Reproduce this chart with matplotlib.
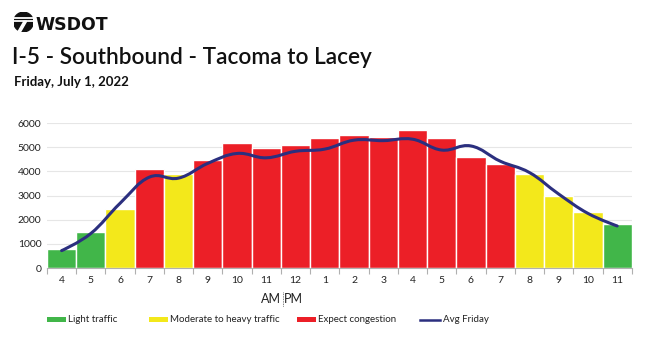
import numpy as np
import matplotlib.pyplot as plt
from matplotlib.path import Path
from matplotlib.patches import PathPatch, Circle, Rectangle, Polygon
from matplotlib.lines import Line2D

# ---------------------------------------------------------------------------
# Hourly volumes, I-5 southbound Tacoma -> Lacey, Friday July 1 2022
# ---------------------------------------------------------------------------
hours = ['4', '5', '6', '7', '8', '9', '10', '11', '12', '1',
         '2', '3', '4', '5', '6', '7', '8', '9', '10', '11']
volume = [780, 1500, 2430, 4080, 3880, 4450, 5170, 4960, 5070, 5390,
          5490, 5430, 5690, 5380, 4600, 4300, 3880, 3000, 2330, 1820]
avg_friday = [720, 1430, 2680, 3760, 3720, 4330, 4740, 4560, 4830, 4920,
              5290, 5270, 5330, 4880, 5050, 4420, 3950, 3060, 2260, 1740]
# traffic level per hour: 0 light, 1 moderate/heavy, 2 congestion
level = [0, 0, 1, 2, 1, 2, 2, 2, 2, 2,
         2, 2, 2, 2, 2, 2, 1, 1, 1, 0]
level_names = ['Light traffic', 'Moderate to heavy traffic', 'Expect congestion']

GREEN = '#41b649'
YELLOW = '#f3e81b'
RED = '#ec1f27'
NAVY = '#2b2f7f'
LEVEL_COLORS = [GREEN, YELLOW, RED]
TEXT = '#222222'
GRID = '#e6e6e6'
AXIS = '#b0b0b0'

plt.rcParams['font.family'] = ['Lato', 'DejaVu Sans']

fig = plt.figure(figsize=(6.5, 3.37), dpi=100)
ax = fig.add_axes([0.0723, 0.2047, 0.8997, 0.4303])

x = np.arange(len(hours))
ax.bar(x, volume, width=1.0, color=[LEVEL_COLORS[l] for l in level],
       edgecolor='white', linewidth=1.0, zorder=2)


def spline_path(xs, ys, smoothing=1.5):
    """Bezier path through the points, Highcharts-style spline."""
    denom = smoothing + 1
    verts = [(xs[0], ys[0])]
    codes = [Path.MOVETO]
    right_prev = (xs[0], ys[0])
    n = len(xs)
    for i in range(1, n):
        px, py = xs[i], ys[i]
        if i < n - 1:
            lx, ly = xs[i - 1], ys[i - 1]
            nx, ny = xs[i + 1], ys[i + 1]
            lcx = (smoothing * px + lx) / denom
            lcy = (smoothing * py + ly) / denom
            rcx = (smoothing * px + nx) / denom
            rcy = (smoothing * py + ny) / denom
            corr = (rcy - lcy) * (rcx - px) / (rcx - lcx) + py - rcy
            lcy += corr
            rcy += corr
            left = (lcx, lcy)
            right = (rcx, rcy)
        else:
            left = (px, py)
            right = (px, py)
        verts += [right_prev, left, (px, py)]
        codes += [Path.CURVE4] * 3
        right_prev = right
    return Path(verts, codes)


ax.add_patch(PathPatch(spline_path(x, avg_friday), facecolor='none',
                       edgecolor=NAVY, linewidth=2.2, capstyle='round',
                       zorder=3))

ax.set_xlim(-0.5, len(hours) - 0.5)
ax.set_ylim(0, 6000)
ax.set_yticks(np.arange(0, 6001, 1000))
ax.yaxis.grid(True, color=GRID, linewidth=0.8, zorder=0)
ax.set_axisbelow(True)
ax.tick_params(axis='y', length=0, labelsize=7.5, labelcolor=TEXT, pad=4)

ax.set_xticks(x)
ax.set_xticklabels(hours)
ax.set_xticks(np.arange(-0.5, len(hours), 1.0), minor=True)
ax.tick_params(axis='x', which='major', length=0, labelsize=7.5,
               labelcolor=TEXT, pad=6)
ax.tick_params(axis='x', which='minor', length=4, color=AXIS, width=0.8)

for side in ('top', 'right', 'left'):
    ax.spines[side].set_visible(False)
ax.spines['bottom'].set_color(AXIS)
ax.spines['bottom'].set_linewidth(0.8)
ax.spines['bottom'].set_zorder(4)

# AM | PM marker between 11 and 12
fig.text(281 / 650, 1 - 299 / 337, 'AM', ha='right', va='center',
         fontsize=9, color=TEXT)
fig.text(284 / 650, 1 - 299 / 337, 'PM', ha='left', va='center',
         fontsize=9, color=TEXT)
fig.add_artist(Line2D([282.5 / 650] * 2, [1 - 292 / 337, 1 - 307 / 337],
                      color='#555555', linewidth=0.6, linestyle=(0, (1, 1))))

# legend row along the bottom
leg_y = 1 - 320 / 337
leg_x = [47, 149, 297]
for i, name in enumerate(level_names):
    fig.add_artist(Rectangle((leg_x[i] / 650, leg_y - 2 / 337), 19 / 650,
                             5 / 337, facecolor=LEVEL_COLORS[i],
                             edgecolor='none'))
    fig.text((leg_x[i] + 21) / 650, leg_y, name, ha='left', va='center',
             fontsize=7, color=TEXT)
fig.add_artist(Line2D([420 / 650, 440 / 650], [leg_y, leg_y], color=NAVY,
                      linewidth=1.8))
fig.text(443 / 650, leg_y, 'Avg Friday', ha='left', va='center',
         fontsize=7, color=TEXT)

# WSDOT mark: dark disc with white stripes
cx, cy, r = 23.5, 22.0, 9.8
logo = fig.add_axes([(cx - r) / 650, 1 - (cy + r) / 337, 2 * r / 650,
                     2 * r / 337])
logo.set_xlim(-1, 1)
logo.set_ylim(-1, 1)
logo.axis('off')
logo.add_patch(Circle((0, 0), 1, color='#111111'))
for yy in (0.42, 0.08):
    logo.add_line(Line2D([-1, 1], [yy, yy], color='white', linewidth=1.3))
logo.add_patch(Polygon([(0.05, 0.08), (0.32, 0.08), (-0.3, -1.0),
                        (-0.57, -1.0)], closed=True, color='white'))
fig.text(35 / 650, 1 - 24.5 / 337, 'WSDOT', ha='left', va='center',
         fontsize=12.5, fontweight='heavy', family='DejaVu Sans',
         color='#111111')

fig.text(12 / 650, 1 - 57 / 337, 'I-5 - Southbound - Tacoma to Lacey',
         ha='left', va='center', fontsize=16.3, fontweight='semibold',
         color='#111111')
fig.text(14 / 650, 1 - 82 / 337, 'Friday, July 1, 2022', ha='left',
         va='center', fontsize=9.5, fontweight='bold', color='#111111')

fig.savefig('out.png', dpi=100)
